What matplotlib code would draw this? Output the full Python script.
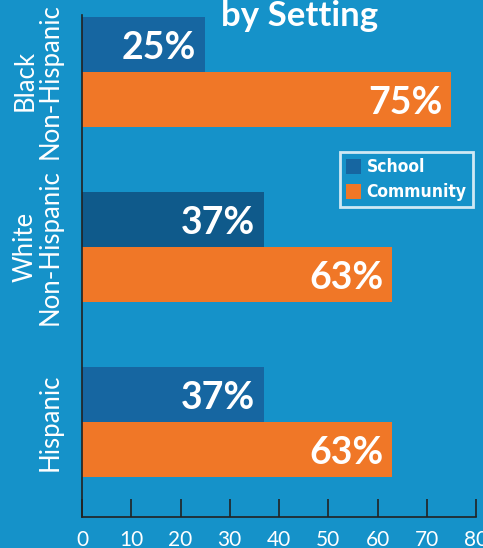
import matplotlib
matplotlib.use("Agg")
import matplotlib.pyplot as plt
from matplotlib.patches import Patch

groups = ["Hispanic", "White\nNon-Hispanic", "Black\nNon-Hispanic"]
school = [37, 37, 25]
community = [63, 63, 75]
xticks = [0, 10, 20, 30, 40, 50, 60, 70, 80]

bg = "#1592c9"
school_colors = ["#1666a1", "#0f5a8b", "#1666a1"]
orange = "#f07727"

fig = plt.figure(figsize=(4.83, 5.48), dpi=100, facecolor=bg)
ax = fig.add_axes([82/483, 31/548, 394/483, 502/548])
ax.set_facecolor(bg)

h = 0.315
pos = list(range(len(groups)))
for i, p in enumerate(pos):
    ax.barh(p + h/2, school[i], height=h, color=school_colors[i], linewidth=0)
    ax.barh(p - h/2, community[i], height=h, color=orange, linewidth=0)
    ax.text(school[i] - 1.8, p + h/2 - 0.02, f"{school[i]}%", ha="right", va="center",
            color="white", fontsize=27, fontweight="bold", family="Lato")
    ax.text(community[i] - 1.8, p - h/2 - 0.02, f"{community[i]}%", ha="right", va="center",
            color="white", fontsize=27, fontweight="bold", family="Lato")

ax.set_xlim(0, 80)
ax.set_ylim(-0.543, 2.326)
ax.set_xticks(xticks)
ax.set_xticklabels([str(t) for t in xticks], color="white", fontsize=15, family="Lato")
ax.tick_params(axis="x", direction="in", length=13, width=1.2, color="#222222", pad=9)
# label positions: slight layout nudge so the top label sits a bit lower, as in the original
label_pos = [p - (0.05 if p == pos[-1] else 0.0) for p in pos]
ax.set_yticks(label_pos)
ax.set_yticklabels(groups, rotation=90, va="center", ha="right", color="white",
                   fontsize=18.5, family="Lato", linespacing=1.0, multialignment="center")
ax.tick_params(axis="y", length=0, pad=14)
for s in ["top", "right"]:
    ax.spines[s].set_visible(False)
for s in ["left", "bottom"]:
    ax.spines[s].set_color("#222222")
    ax.spines[s].set_linewidth(1.2)

handles = [Patch(facecolor="#1666a1", label="School"), Patch(facecolor=orange, label="Community")]
leg = ax.legend(handles=handles, loc="upper right", bbox_to_anchor=(0.992, 0.727),
                frameon=True, fancybox=False, facecolor=bg, edgecolor="white",
                prop={"family": "DejaVu Sans", "weight": "bold", "size": 12.5, "stretch": "condensed"},
                handlelength=0.85, handleheight=0.95, handletextpad=0.35, borderpad=0.35,
                labelspacing=0.4, borderaxespad=0)
leg.get_frame().set_linewidth(2)
for t in leg.get_texts():
    t.set_color("white")

fig.text(300/483, 1 - 26/548, "by Setting", ha="center", va="baseline", color="white",
         fontsize=25, fontweight="bold", family="Lato")

fig.savefig("out.png", dpi=100, facecolor=bg)
